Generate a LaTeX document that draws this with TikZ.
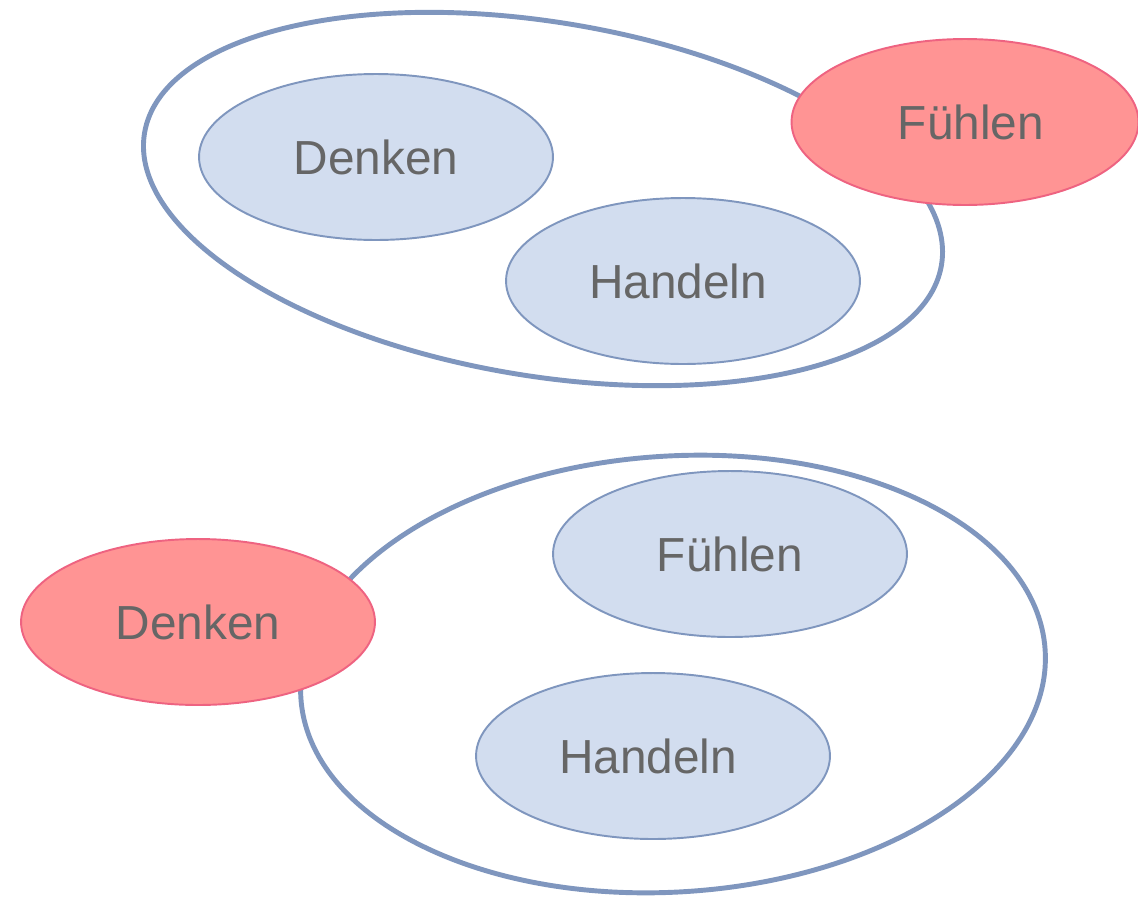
\documentclass[tikz,border=0pt]{standalone}
\usepackage{fontspec}
\setmainfont{Liberation Sans}
\usetikzlibrary{shapes.geometric}
\definecolor{bstroke}{HTML}{7F96BE}
\definecolor{bfill}{HTML}{D2DDEF}
\definecolor{rfill}{HTML}{FF9494}
\definecolor{rstroke}{HTML}{EE6381}
\definecolor{txt}{HTML}{666666}
\tikzset{
  outer/.style={ellipse, draw=bstroke, line width=2.8pt, fill=none, inner sep=0pt},
  inner/.style={ellipse, draw=bstroke, fill=bfill, line width=1.1pt, inner sep=0pt,
    minimum width=7.08cm, minimum height=3.32cm, text=txt,
    font=\fontsize{27.2}{32}\selectfont},
  hot/.style={inner, draw=rstroke, fill=rfill, minimum width=6.94cm},
}
\begin{document}
\begin{tikzpicture}[x=0.02cm, y=-0.02cm]
\useasboundingbox (0,0) rectangle (1138,896);
% top group
\node[outer, rotate=-9.4, minimum width=16.16cm, minimum height=7.08cm] (outerA) at (543,199) {};
\node[inner] (denkenA) at (376,157) {Denken};
\node[inner] (handelnA) at (683,281) {\hspace*{-0.2cm}Handeln};
\node[hot] (fuehlenA) at (965,122) {Fühlen\hspace*{-0.24cm}};
% bottom group
\node[outer, rotate=3.7, minimum width=14.92cm, minimum height=8.72cm] (outerB) at (673,674) {};
\node[inner] (fuehlenB) at (730,554) {Fühlen};
\node[inner] (handelnB) at (653,756) {\hspace*{-0.2cm}Handeln};
\node[hot, minimum width=7.08cm] (denkenB) at (198,622) {Denken};
\end{tikzpicture}
\end{document}
